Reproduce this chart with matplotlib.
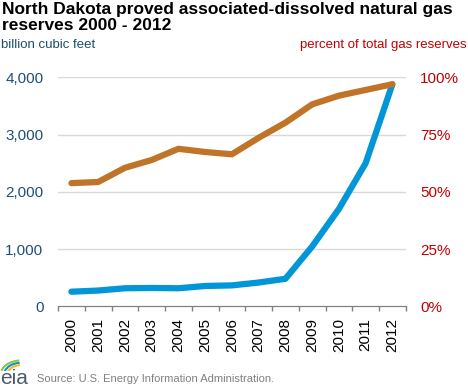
import matplotlib.pyplot as plt
from matplotlib.patches import Arc
from matplotlib.ticker import FuncFormatter

plt.rcParams['font.family'] = ['Liberation Sans', 'DejaVu Sans']

years = ['2000', '2001', '2002', '2003', '2004', '2005', '2006',
         '2007', '2008', '2009', '2010', '2011', '2012']
# associated-dissolved reserves, billion cubic feet
reserves_bcf = [255, 275, 315, 320, 315, 355, 365, 415, 480, 1045, 1700, 2500, 3880]
# share of total gas reserves, percent
share_pct = [53.8, 54.3, 60.5, 63.9, 68.8, 67.4, 66.4, 73.6, 80.2, 88.2, 92.0, 94.5, 97.0]

blue = '#0096D7'
orange = '#C07427'
left_col = '#1F4E79'
right_col = '#C00000'

fig = plt.figure(figsize=(4.68, 3.88), dpi=100)
ax = fig.add_axes([0.124, 0.2106, 0.743, 0.590])
ax2 = ax.twinx()

x = list(range(len(years)))
ax.plot(x, reserves_bcf, color=blue, lw=4.5, solid_capstyle='round', zorder=3, clip_on=False)
ax2.plot(x, share_pct, color=orange, lw=4.5, solid_capstyle='round', zorder=3, clip_on=False)

ax.set_xlim(-0.5, len(years) - 0.5)
ax.set_ylim(0, 4000)
ax2.set_ylim(0, 100)
ax.set_yticks([0, 1000, 2000, 3000, 4000])
ax2.set_yticks([0, 25, 50, 75, 100])
ax.yaxis.set_major_formatter(FuncFormatter(lambda v, p: f'{int(v):,}'))
ax2.yaxis.set_major_formatter(FuncFormatter(lambda v, p: f'{int(v)}%'))

for y in [1000, 2000, 3000, 4000]:
    ax.axhline(y, color='#D9D9D9', lw=1, zorder=1)

# category boundaries as tick marks, labels at centres
ax.set_xticks([i - 0.5 for i in range(len(years) + 1)])
ax.set_xticklabels([])
ax.set_xticks(x, minor=True)
ax.set_xticklabels(years, minor=True, rotation=90, fontsize=11)
ax.tick_params(axis='x', which='major', length=3.6, color='#808080', width=1, direction='out')
ax.tick_params(axis='x', which='minor', length=0, pad=8.5)

ax.tick_params(axis='y', length=0, labelsize=11, labelcolor=left_col, pad=10.5)
ax2.tick_params(axis='y', length=0, labelsize=11, labelcolor=right_col, pad=10.5)

for a in (ax, ax2):
    for s in ['top', 'left', 'right']:
        a.spines[s].set_visible(False)
    a.spines['bottom'].set_color('#808080')

fig.text(0.005, 0.995, 'North Dakota proved associated-dissolved natural gas\nreserves 2000 - 2012',
         ha='left', va='top', fontsize=12.5, fontweight='bold', linespacing=1.05)
fig.text(0.003, 0.885, 'billion cubic feet', ha='left', va='center', fontsize=9.5, color='#1B4F6E')
fig.text(0.998, 0.885, 'percent of total gas reserves', ha='right', va='center', fontsize=9.5, color=right_col)

# eia logo and source
fig.text(0.0, 0.0, 'eia', ha='left', va='bottom', fontsize=15, color='#4D5B6B')
la = fig.add_axes([0.0, 0.045, 0.06, 0.05])
la.set_xlim(0, 1)
la.set_ylim(0, 1)
la.axis('off')
for r, c in [(0.9, '#8DC63F'), (0.75, '#0096D7'), (0.6, '#FDB813')]:
    la.add_patch(Arc((0.75, -0.2), r * 1.6, r * 1.6, theta1=95, theta2=165, color=c, lw=1.5))
fig.text(0.079, 0.01, 'Source: U.S. Energy Information Administration.', ha='left', va='bottom',
         fontsize=8, color='#808080')

fig.savefig('out.png', dpi=100, facecolor='white')
